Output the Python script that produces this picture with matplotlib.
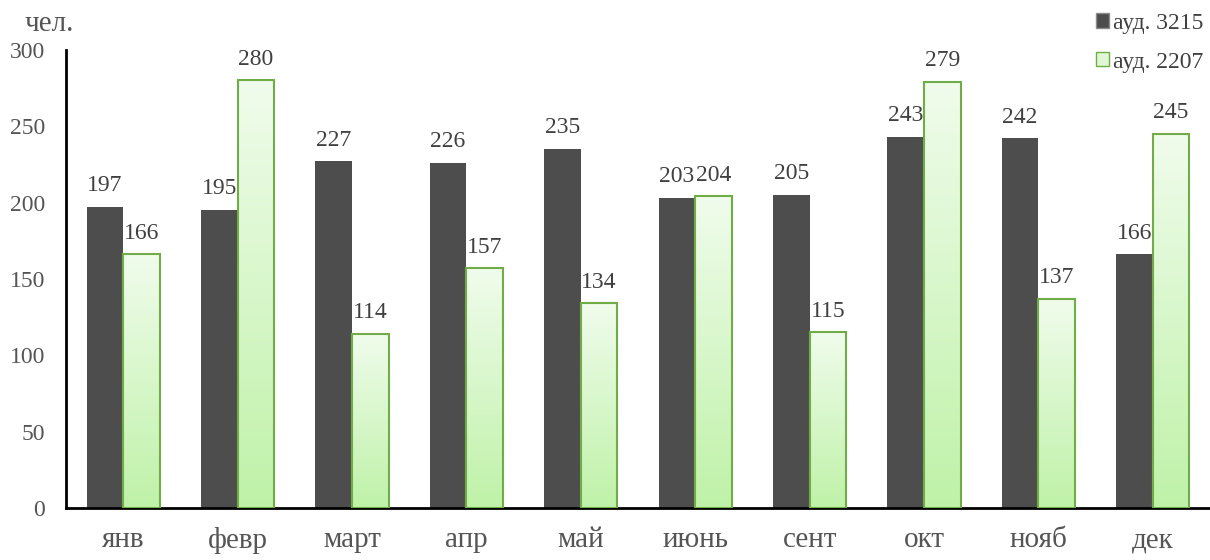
import numpy as np
import matplotlib.pyplot as plt
from matplotlib.patches import Patch
from matplotlib.colors import LinearSegmentedColormap

# Данные
mesyacy = ['янв', 'февр', 'март', 'апр', 'май', 'июнь', 'сент', 'окт', 'нояб', 'дек']
aud_3215 = [197, 195, 227, 226, 235, 203, 205, 243, 242, 166]
aud_2207 = [166, 280, 114, 157, 134, 204, 115, 279, 137, 245]

plt.rcParams['font.family'] = ['Liberation Serif', 'DejaVu Serif']

fig = plt.figure(figsize=(12.1, 5.6), dpi=100)
ax = fig.add_axes([0.0545, 0.093, 0.9455, 0.818])

x = np.arange(len(mesyacy))
w = 0.32
tekst = '#404040'
osi = '#555555'

ax.bar(x - w / 2, aud_3215, w, color='#4d4d4d', zorder=2)
zel = ax.bar(x + w / 2, aud_2207, w, color='none', edgecolor='#70ad47', linewidth=1.5, zorder=3)

# градиент внутри зелёных столбцов
grad = np.linspace(0, 1, 256).reshape(-1, 1)
cm = LinearSegmentedColormap.from_list('g', ['#bff2a8', '#f0fcec'])
for b in zel:
    x0, h = b.get_x(), b.get_height()
    im = ax.imshow(grad, cmap=cm, aspect='auto', origin='lower',
                   extent=[x0, x0 + w, 0, h], zorder=2.5)
    im.set_clip_path(b)

for xi, v in zip(x, aud_3215):
    ax.text(xi - w / 2, v + 7, str(v), ha='center', va='bottom', fontsize=17, color=tekst)
for xi, v in zip(x, aud_2207):
    ax.text(xi + w / 2, v + 7, str(v), ha='center', va='bottom', fontsize=17, color=tekst)

ax.set_xlim(-0.5, len(mesyacy) - 0.5)
ax.set_ylim(0, 300)
ax.set_yticks(range(0, 301, 50))
ax.set_xticks(x)
ax.set_xticklabels(mesyacy)
ax.tick_params(axis='x', length=0, labelsize=21, labelcolor=osi, pad=14)
ax.tick_params(axis='y', length=0, labelsize=17, labelcolor=osi, pad=15)
for s in ['top', 'right']:
    ax.spines[s].set_visible(False)
ax.spines['left'].set_linewidth(2)
ax.spines['bottom'].set_linewidth(2)

fig.text(0.02, 0.945, 'чел.', fontsize=21, color=osi)

handles = [Patch(facecolor='#4d4d4d', edgecolor='#8c8c8c'),
           Patch(facecolor='#dff7d4', edgecolor='#70ad47')]
fig.legend(handles, ['ауд. 3215', 'ауд. 2207'], loc='upper right',
           bbox_to_anchor=(1.012, 1.015), frameon=False, fontsize=17,
           handlelength=0.55, handleheight=0.55, handletextpad=0.15,
           labelspacing=0.75, labelcolor=tekst)

fig.savefig('out.png', dpi=100)
